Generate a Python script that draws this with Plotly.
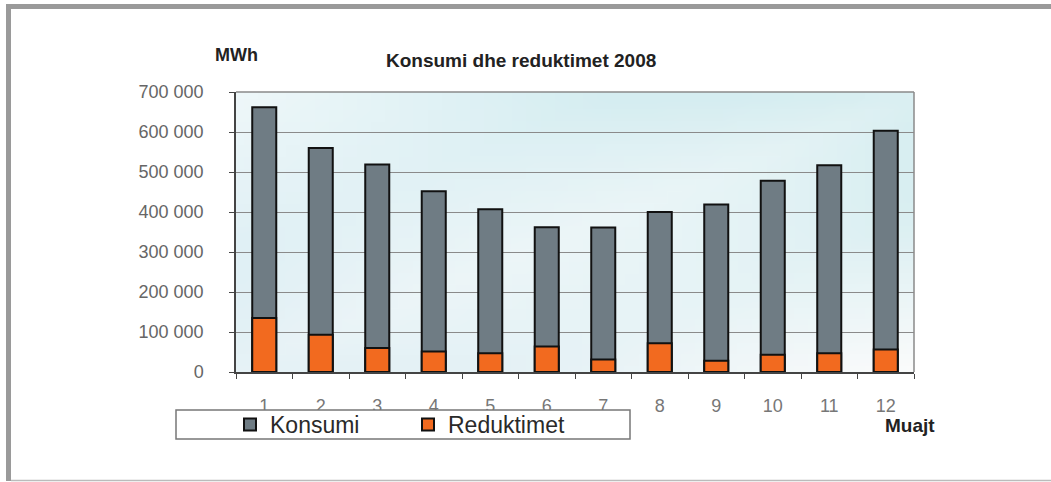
import base64
import struct
import zlib
import plotly.graph_objects as go

# Konsumi dhe reduktimet 2008 (MWh)
muajt = [str(m) for m in range(1, 13)]
konsumi = [662000, 560000, 519000, 452000, 407000, 362000, 361000, 400000, 419000, 478000, 517000, 603000]
reduktimet = [135000, 93000, 60000, 51000, 47000, 64000, 31000, 72000, 28000, 43000, 47000, 56000]
y_ticks = [0, 100000, 200000, 300000, 400000, 500000, 600000, 700000]

W, H = 1051, 482
L, R, T, B = 236, 137, 92, 110
PW, PH = W - L - R, H - T - B


def px(x):
    return (x - L) / PW


def py(y):
    return (H - B - y) / PH


def gradient_uri(w=48, h=24):
    # soft background like the excel chart fill
    tl, tr = (238, 247, 249), (192, 229, 234)
    bl, br = (212, 234, 241), (250, 251, 251)
    rows = b""
    for j in range(h):
        v = 1 - j / (h - 1)
        row = b"\x00"
        for i in range(w):
            u = i / (w - 1)
            c = [
                (1 - u) * (1 - v) * bl[k] + u * (1 - v) * br[k] + (1 - u) * v * tl[k] + u * v * tr[k]
                for k in range(3)
            ]
            # lighter band through the middle
            m = max(0.0, 1 - abs(u - v) * 2.2) * 0.45
            c = [x + (252 - x) * m for x in c]
            row += bytes(int(round(x)) for x in c)
        rows += row

    def chunk(tag, data):
        return struct.pack(">I", len(data)) + tag + data + struct.pack(">I", zlib.crc32(tag + data) & 0xFFFFFFFF)

    png = b"\x89PNG\r\n\x1a\n" + chunk(b"IHDR", struct.pack(">IIBBBBB", w, h, 8, 2, 0, 0, 0))
    png += chunk(b"IDAT", zlib.compress(rows)) + chunk(b"IEND", b"")
    return "data:image/png;base64," + base64.b64encode(png).decode()


fig = go.Figure()
fig.add_trace(go.Bar(
    x=muajt, y=konsumi, name="Konsumi",
    marker=dict(color="#6f7c84", line=dict(color="#111", width=2)),
))
fig.add_trace(go.Bar(
    x=muajt, y=reduktimet, name="Reduktimet",
    marker=dict(color="#f26a1f", line=dict(color="#111", width=2)),
))

font = "Liberation Sans, Arial, sans-serif"
fig.update_layout(
    width=W, height=H,
    margin=dict(l=L, r=R, t=T, b=B),
    barmode="overlay",
    bargap=0.575,
    paper_bgcolor="white",
    plot_bgcolor="rgba(0,0,0,0)",
    separators=". ",
    font=dict(family=font, size=18, color="#666"),
    showlegend=True,
    legend=dict(
        orientation="h",
        x=px(230), y=py(424.5), xanchor="left", yanchor="middle",
        bgcolor="rgba(0,0,0,0)",
        font=dict(size=23, color="#2a2a2a"),
        entrywidth=133,
        itemwidth=30,
    ),
    images=[dict(
        source=gradient_uri(), xref="paper", yref="paper",
        x=0, y=1, sizex=1, sizey=1, sizing="stretch", layer="below",
    )],
    xaxis=dict(
        type="category", tickson="boundaries", ticks="outside", ticklen=5,
        tickcolor="#444", showline=True, linecolor="#444", linewidth=1.5,
        showgrid=False, ticklabelstandoff=17, tickfont=dict(color="#777"),
    ),
    yaxis=dict(
        range=[0, 700000], tickvals=y_ticks, tickformat=",d",
        ticks="outside", ticklen=5, tickcolor="#444",
        showline=True, linecolor="#444", linewidth=1.5,
        showgrid=True, gridcolor="#8a8a8a", gridwidth=1,
        ticklabelstandoff=22, zeroline=False,
        tickfont=dict(color="#666"),
    ),
)

# plot frame top and right
fig.add_shape(type="line", xref="paper", yref="paper", x0=0, x1=1, y0=1, y1=1,
              line=dict(color="#8a8a8a", width=1.5))
fig.add_shape(type="line", xref="paper", yref="paper", x0=1, x1=1, y0=0, y1=1,
              line=dict(color="#8a8a8a", width=1.5))

# legend box
fig.add_shape(type="rect", xref="paper", yref="paper",
              x0=px(176), x1=px(630), y0=py(439), y1=py(410),
              fillcolor="white", line=dict(color="#777", width=1.5))

# outer page frame
fig.add_shape(type="rect", xref="paper", yref="paper",
              x0=px(6), x1=px(W), y0=py(9), y1=py(4),
              fillcolor="#9a9a9a", line=dict(width=0))
fig.add_shape(type="rect", xref="paper", yref="paper",
              x0=px(6), x1=px(11), y0=py(481), y1=py(4),
              fillcolor="#9a9a9a", line=dict(width=0))
fig.add_shape(type="line", xref="paper", yref="paper",
              x0=px(11), x1=px(W), y0=py(480.5), y1=py(480.5),
              line=dict(color="#bbbbbb", width=1.5))

fig.add_annotation(text="<b>Konsumi dhe reduktimet 2008</b>", xref="paper", yref="paper",
                   x=px(521), y=py(61), xanchor="center", yanchor="middle", showarrow=False,
                   font=dict(size=19, color="#222"))
fig.add_annotation(text="<b>MWh</b>", xref="paper", yref="paper",
                   x=px(236), y=py(55), xanchor="center", yanchor="middle", showarrow=False,
                   font=dict(size=18, color="#222"))
fig.add_annotation(text="<b>Muajt</b>", xref="paper", yref="paper",
                   x=px(910), y=py(425), xanchor="center", yanchor="middle", showarrow=False,
                   font=dict(size=19, color="#222"))

fig.write_html("out.html", config={"displayModeBar": False},
               post_script="document.body.style.margin = '0';")
